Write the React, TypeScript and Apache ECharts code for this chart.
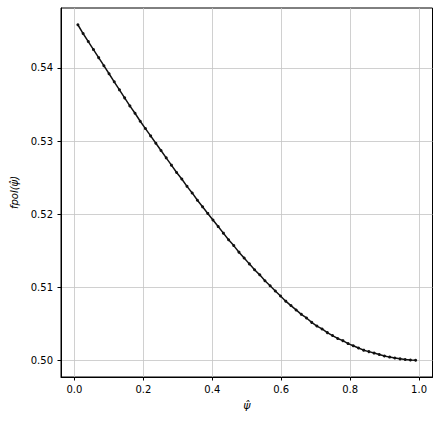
import { useEffect, useRef } from 'react'
import * as echarts from 'echarts'

// psi-hat sample positions (evenly spaced)
const psiValues = [
  0.0100, 0.0251, 0.0402, 0.0552, 0.0703, 0.0854, 0.1005, 0.1155, 0.1306, 0.1457,
  0.1608, 0.1758, 0.1909, 0.2060, 0.2211, 0.2362, 0.2512, 0.2663, 0.2814, 0.2965,
  0.3115, 0.3266, 0.3417, 0.3568, 0.3718, 0.3869, 0.4020, 0.4171, 0.4322, 0.4472,
  0.4623, 0.4774, 0.4925, 0.5075, 0.5226, 0.5377, 0.5528, 0.5678, 0.5829, 0.5980,
  0.6131, 0.6282, 0.6432, 0.6583, 0.6734, 0.6885, 0.7035, 0.7186, 0.7337, 0.7488,
  0.7638, 0.7789, 0.7940, 0.8091, 0.8242, 0.8392, 0.8543, 0.8694, 0.8845, 0.8995,
  0.9146, 0.9297, 0.9448, 0.9598, 0.9749, 0.9900,
]

// fpol(psi-hat)
const fpolValues = [
  0.5459, 0.5447, 0.5436, 0.5425, 0.5414, 0.5403, 0.5392, 0.5381, 0.5370, 0.5359,
  0.5348, 0.5338, 0.5327, 0.5317, 0.5307, 0.5297, 0.5287, 0.5277, 0.5267, 0.5257,
  0.5248, 0.5238, 0.5229, 0.5219, 0.5210, 0.5201, 0.5192, 0.5183, 0.5174, 0.5165,
  0.5157, 0.5148, 0.5140, 0.5132, 0.5124, 0.5117, 0.5109, 0.5102, 0.5095, 0.5088,
  0.5081, 0.5075, 0.5069, 0.5063, 0.5058, 0.5052, 0.5047, 0.5043, 0.5038, 0.5034,
  0.5030, 0.5027, 0.5023, 0.5020, 0.5017, 0.5014, 0.5012, 0.5010, 0.5008, 0.5006,
  0.50045, 0.50032, 0.50021, 0.50012, 0.50006, 0.50002,
]

const xTicks = [0, 0.2, 0.4, 0.6, 0.8, 1.0]
const yTicks = [0.5, 0.51, 0.52, 0.53, 0.54]

const FONT = 'DejaVu Sans'

export default function App() {
  const chartRef = useRef<HTMLDivElement>(null)

  useEffect(() => {
    if (!chartRef.current) return
    const chart = echarts.init(chartRef.current, null, { renderer: 'svg' })

    const data = psiValues.map((x, i) => [x, fpolValues[i]])

    const option: any = {
      animation: false,
      backgroundColor: '#ffffff',
      grid: {
        left: 61,
        top: 8,
        right: 8.5,
        bottom: 47,
        show: true,
        borderColor: '#000000',
        borderWidth: 1,
        backgroundColor: 'transparent',
      },
      xAxis: {
        type: 'value',
        min: -0.039,
        max: 1.039,
        name: 'ψ̂',
        nameLocation: 'middle',
        nameGap: 23,
        nameTextStyle: { color: '#000', fontFamily: FONT, fontSize: 11, fontStyle: 'italic' },
        axisLine: { show: true, onZero: false, lineStyle: { color: '#000', width: 1 } },
        axisTick: {
          show: true,
          inside: false,
          length: 3.5,
          customValues: xTicks,
          lineStyle: { color: '#000', width: 1 },
        },
        axisLabel: {
          customValues: xTicks,
          color: '#000',
          fontFamily: FONT,
          fontSize: 10,
          margin: 7,
          formatter: (v: number) => v.toFixed(1),
        },
        splitLine: { show: true, lineStyle: { color: '#c4c4c4', width: 0.8 } },
      },
      yAxis: {
        type: 'value',
        min: 0.49773,
        max: 0.54819,
        name: 'fpol(ψ̂)',
        nameLocation: 'middle',
        nameGap: 40,
        nameTextStyle: { color: '#000', fontFamily: FONT, fontSize: 10, fontStyle: 'italic' },
        axisLine: { show: true, onZero: false, lineStyle: { color: '#000', width: 1 } },
        axisTick: {
          show: true,
          inside: false,
          length: 3.5,
          customValues: yTicks,
          lineStyle: { color: '#000', width: 1 },
        },
        axisLabel: {
          customValues: yTicks,
          color: '#000',
          fontFamily: FONT,
          fontSize: 10,
          margin: 8,
          formatter: (v: number) => v.toFixed(2),
        },
        splitLine: { show: true, lineStyle: { color: '#c4c4c4', width: 0.8 } },
      },
      series: [
        {
          type: 'line',
          data,
          showSymbol: true,
          symbol: 'circle',
          symbolSize: 3,
          itemStyle: { color: '#111111' },
          lineStyle: { color: '#111111', width: 1.5 },
          silent: true,
        },
      ],
    }

    chart.setOption(option)

    return () => {
      chart.dispose()
    }
  }, [])

  return (
    <div
      ref={chartRef}
      style={{ position: 'absolute', left: 0, top: 0, width: 441, height: 424 }}
    />
  )
}
